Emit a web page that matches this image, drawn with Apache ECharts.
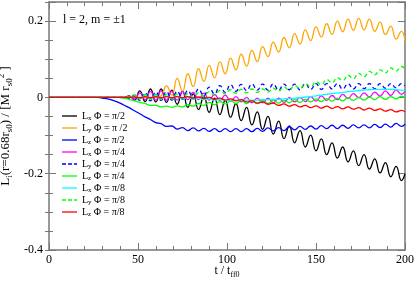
<!DOCTYPE html>
<html><head><meta charset="utf-8">
<script src="https://cdn.jsdelivr.net/npm/echarts@6/dist/echarts.min.js"></script>
<style>html,body{margin:0;padding:0;background:#fff}#c{width:415px;height:283px}</style>
</head><body><div id="c"></div>
<script>
const tValues = [0,3,6,9,12,15,18,21,24,27,30,33,36,39,42,45,48,51,54,57,60,63,66,69,72,75,78,81,84,87,90,93,96,99,102,105,108,111,114,117,120,123,126,129,132,135,138,141,144,147,150,153,156,159,162,165,168,171,174,177,180,183,186,189,192,195,198,200];

const lxPi2 = [0,0,0,0,0,0,0,0,0,0,0,0,0,0,0,
 0.004,-0.007,0.017,-0.011,0.022,-0.012,0.022,-0.013,0.019,-0.018,
 0.016,-0.026,0.009,-0.032,0.003,-0.039,-0.002,-0.045,-0.008,-0.052,
 -0.016,-0.061,-0.026,-0.072,-0.038,-0.084,-0.05,-0.096,-0.062,-0.108,
 -0.075,-0.119,-0.087,-0.13,-0.099,-0.14,-0.109,-0.15,-0.119,-0.159,
 -0.13,-0.169,-0.14,-0.179,-0.15,-0.188,-0.161,-0.198,-0.171,-0.208,
 -0.181,-0.218,-0.2];
const lyPi2 = [0,0,0,0,0,0,0,0,0,0,0,0,0,0,0,0,0,0,0,0,0,
 0.004,0.03,0.006,0.05,0.016,0.062,0.028,0.075,0.042,0.084,
 0.051,0.093,0.062,0.103,0.072,0.113,0.082,0.123,0.094,0.133,
 0.107,0.145,0.119,0.157,0.13,0.167,0.14,0.177,0.149,0.185,
 0.158,0.193,0.165,0.2,0.172,0.205,0.176,0.207,0.177,0.205,
 0.173,0.197,0.165,0.187,0.153,0.173,0.148];
const lzPi2 = [0,0,0,0,0,0,0,0,0,0,
 -0.002,-0.004,-0.008,-0.013,-0.02,-0.027,-0.035,-0.043,-0.051,-0.058,
 -0.066,-0.069,-0.076,-0.075,-0.083,-0.079,-0.087,-0.08,-0.088,-0.081,
 -0.089,-0.082,-0.09,-0.082,-0.09,-0.082,-0.09,-0.082,-0.09,-0.081,
 -0.089,-0.08,-0.088,-0.079,-0.087,-0.077,-0.085,-0.076,-0.084,-0.075,
 -0.083,-0.074,-0.082,-0.073,-0.082,-0.073,-0.081,-0.072,-0.08,-0.072,
 -0.08,-0.071,-0.079,-0.07,-0.078,-0.068,-0.076,-0.07];
const lxPi4 = [0,0,0,0,0,0,0,0,0,0,0,0,0,0,0,
 0.002,-0.004,0.012,-0.006,0.016,-0.007,0.017,-0.007,0.016,-0.007,
 0.015,-0.006,0.013,-0.006,0.011,-0.007,0.008,-0.008,0.006,-0.01,
 0.002,-0.012,0.0,-0.014,-0.002,-0.014,-0.002,-0.014,-0.002,-0.013,
 -0.001,-0.012,0.0,-0.011,0.002,-0.01,0.004,-0.008,0.005,-0.006,
 0.008,-0.003,0.01,-0.001,0.012,0.001,0.014,0.003,0.017,0.005,
 0.019,0.008,0.016];
const lyPi4 = [0,0,0,0,0,0,0,0,0,0,0,0,0,0,0,
 -0.002,0.006,-0.008,0.012,-0.009,0.014,-0.008,0.015,-0.007,0.016,
 -0.005,0.018,-0.002,0.022,0.004,0.027,0.009,0.031,0.013,0.033,
 0.016,0.034,0.018,0.035,0.019,0.035,0.019,0.035,0.019,0.035,
 0.02,0.035,0.02,0.036,0.021,0.036,0.021,0.036,0.022,0.036,
 0.022,0.036,0.022,0.036,0.023,0.036,0.023,0.036,0.024,0.036,
 0.025,0.036,0.03];
const lzPi4 = [0,0,0,0,0,0,0,0,0,0,0,0,0,0,
 -0.002,-0.005,-0.009,-0.013,-0.016,-0.021,-0.021,-0.025,-0.023,-0.026,
 -0.022,-0.025,-0.019,-0.023,-0.016,-0.021,-0.013,-0.019,-0.011,-0.017,
 -0.009,-0.016,-0.008,-0.016,-0.008,-0.016,-0.008,-0.016,-0.007,-0.015,
 -0.007,-0.014,-0.006,-0.013,-0.005,-0.012,-0.004,-0.011,-0.003,-0.01,
 -0.002,-0.009,-0.001,-0.008,0.0,-0.007,0.001,-0.006,0.002,-0.005,
 0.002,-0.004,0.003,-0.001];
const lxPi8 = [0,0,0,0,0,0,0,0,0,0,0,0,0,0,0,0,
 0.003,-0.003,0.005,-0.004,0.005,-0.004,0.004,-0.004,0.003,-0.004,
 0.001,-0.005,-0.002,-0.006,-0.004,-0.007,-0.006,-0.007,-0.007,-0.007,
 -0.007,-0.007,-0.007,-0.007,-0.006,-0.006,-0.005,-0.005,-0.004,-0.003,
 -0.002,-0.001,0.001,0.002,0.004,0.006,0.008,0.01,0.011,0.013,
 0.015,0.016,0.018,0.019,0.02,0.021,0.021,0.021,0.021,0.02,
 0.019,0.018];
const lyPi8 = [0,0,0,0,0,0,0,0,0,0,0,0,0,0,0,
 0.001,0.006,-0.004,0.008,-0.004,0.008,-0.004,0.008,-0.003,0.009,
 -0.002,0.01,0.0,0.012,0.003,0.015,0.006,0.018,0.009,0.02,
 0.011,0.021,0.012,0.022,0.013,0.022,0.014,0.024,0.016,0.027,
 0.019,0.031,0.023,0.036,0.028,0.041,0.033,0.047,0.038,0.052,
 0.044,0.058,0.049,0.063,0.054,0.068,0.059,0.072,0.064,0.077,
 0.069,0.081,0.076];
const lzPi8 = [0,0,0,0,0,0,0,0,0,0,0,0,0,0,0,0,
 0.001,-0.001,0.002,-0.001,0.002,-0.001,0.002,-0.001,0.002,-0.001,
 0.002,-0.002,0.001,-0.003,0.0,-0.005,-0.002,-0.007,-0.004,-0.009,
 -0.006,-0.012,-0.009,-0.015,-0.012,-0.018,-0.015,-0.021,-0.017,-0.023,
 -0.019,-0.025,-0.021,-0.027,-0.022,-0.028,-0.023,-0.029,-0.024,-0.03,
 -0.025,-0.031,-0.027,-0.033,-0.028,-0.034,-0.03,-0.036,-0.032,-0.038,
 -0.034,-0.038];

const yTickLabels = [-0.4, -0.2, 0, 0.2];
const xTickLabels = [0, 50, 100, 150, 200];

const seriesDefs = [
  {name:'Lx2', comp:'x', phi:'π/2', data:lxPi2, color:'#000000', dashed:false},
  {name:'Ly2', comp:'y', phi:'π /2', data:lyPi2, color:'#FFA500', dashed:false},
  {name:'Lz2', comp:'z', phi:'π/2', data:lzPi2, color:'#0000FF', dashed:false},
  {name:'Lx4', comp:'x', phi:'π/4', data:lxPi4, color:'#FF00FF', dashed:false},
  {name:'Ly4', comp:'y', phi:'π/4', data:lyPi4, color:'#0000FF', dashed:true},
  {name:'Lz4', comp:'z', phi:'π/4', data:lzPi4, color:'#00FF00', dashed:false},
  {name:'Lx8', comp:'x', phi:'π/8', data:lxPi8, color:'#00FFFF', dashed:false},
  {name:'Ly8', comp:'y', phi:'π/8', data:lyPi8, color:'#00FF00', dashed:true},
  {name:'Lz8', comp:'z', phi:'π/8', data:lzPi8, color:'#FF0000', dashed:false}
];

const FONT = 'Liberation Serif';
const AX = '#777777';
const ICON_SOLID = 'path://M0 0H15V1.3H0Z';
const ICON_DASH = 'path://M0 0H4V1.3H0Z M6 0H10V1.3H6Z M12 0H15V1.3H12Z';
const chart = echarts.init(document.getElementById('c'), null, {renderer:'canvas'});

function fmtY(v){
  for (const t of yTickLabels) if (Math.abs(v - t) < 1e-6) return t === 0 ? '0' : String(t);
  return '';
}
function fmtX(v){
  for (const t of xTickLabels) if (Math.abs(v - t) < 1e-6) return String(t);
  return '';
}
const tickBase = {show:true, inside:true, length:7, lineStyle:{color:AX, width:1}};
const minorBase = {show:true, splitNumber:5, length:4, lineStyle:{color:AX, width:1}};
const lineBase = {show:true, onZero:false, lineStyle:{color:AX, width:1.5}};

const option = {
  animation:false,
  backgroundColor:'#ffffff',
  grid:{left:49, right:10, top:2, bottom:33, containLabel:false, outerBoundsMode:'none'},
  xAxis:[
    {type:'value', position:'bottom', min:0, max:200, interval:50,
     axisLine:lineBase, axisTick:tickBase, minorTick:minorBase, splitLine:{show:false}, minorSplitLine:{show:false},
     axisLabel:{show:true, margin:4, color:'#000', fontFamily:FONT, fontSize:12, formatter:fmtX},
     name:'{n|t / t}{s|ff0}', nameLocation:'middle', nameGap:13, nameMoveOverlap:false,
     nameTextStyle:{rich:{
       n:{fontFamily:FONT, fontSize:12, color:'#000', lineHeight:16, verticalAlign:'middle'},
       s:{fontFamily:FONT, fontSize:8, color:'#000', lineHeight:8, verticalAlign:'bottom'}}}},
    {type:'value', position:'top', min:0, max:200, interval:50,
     axisLine:lineBase, axisTick:tickBase, minorTick:minorBase, splitLine:{show:false},
     axisLabel:{show:false}}
  ],
  yAxis:[
    {type:'value', position:'left', min:-0.4, max:0.25, interval:0.2,
     axisLine:lineBase, axisTick:tickBase, splitLine:{show:false},
     axisLabel:{show:true, margin:6, color:'#000', fontFamily:FONT, fontSize:12, formatter:fmtY},
     name:'{n|L}{s|i}{n|(r=0.68r}{s|s0}{n|) / [Ṁ r}{s|s0}{p|2}{n| ]}',
     nameLocation:'middle', nameGap:35, nameRotate:90, nameMoveOverlap:false,
     nameTextStyle:{rich:{
       n:{fontFamily:FONT, fontSize:13, color:'#000', lineHeight:17, verticalAlign:'middle'},
       s:{fontFamily:FONT, fontSize:9, color:'#000', lineHeight:9, verticalAlign:'bottom'},
       p:{fontFamily:FONT, fontSize:9, color:'#000', lineHeight:9, verticalAlign:'top'}}}},
    {type:'value', position:'left', min:-0.4, max:0.25, interval:0.05,
     axisLine:{show:false}, axisTick:{show:true, inside:true, length:4, lineStyle:{color:AX, width:1}},
     splitLine:{show:false}, axisLabel:{show:false}},
    {type:'value', position:'right', min:-0.4, max:0.25, interval:0.2,
     axisLine:lineBase, axisTick:tickBase, splitLine:{show:false}, axisLabel:{show:false}},
    {type:'value', position:'right', min:-0.4, max:0.25, interval:0.05,
     axisLine:{show:false}, axisTick:{show:true, inside:true, length:4, lineStyle:{color:AX, width:1}},
     splitLine:{show:false}, axisLabel:{show:false}}
  ],
  legend:{
    orient:'vertical', left:57, top:106, itemWidth:15, itemHeight:10, itemGap:1,
    data:seriesDefs.map(s=>({name:s.name, icon: s.dashed ? ICON_DASH : ICON_SOLID})),
    formatter:function(name){
      const s = seriesDefs.find(d=>d.name===name);
      return '{n|L}{s|' + s.comp + '}{n| Φ = ' + s.phi + '}';
    },
    textStyle:{rich:{
      n:{fontFamily:FONT, fontSize:10, color:'#000', lineHeight:12, verticalAlign:'middle'},
      s:{fontFamily:FONT, fontSize:7, color:'#000', lineHeight:6, verticalAlign:'bottom'}}}
  },
  graphic:[{type:'text', left:63, top:14, style:{text:'l = 2, m = ±1', font:'12px "Liberation Serif"', fill:'#000'}}],
  series:seriesDefs.map(s=>({
    name:s.name, type:'line', xAxisIndex:0, yAxisIndex:0,
    data:tValues.map((t,i)=>[t, s.data[i]]),
    showSymbol:false, symbol:'none', smooth:0.5,
    lineStyle:{color:s.color, width:1.3, type: s.dashed ? [4,3] : 'solid'},
    itemStyle:{color:s.color}
  }))
};
chart.setOption(option);
</script>
</body></html>
